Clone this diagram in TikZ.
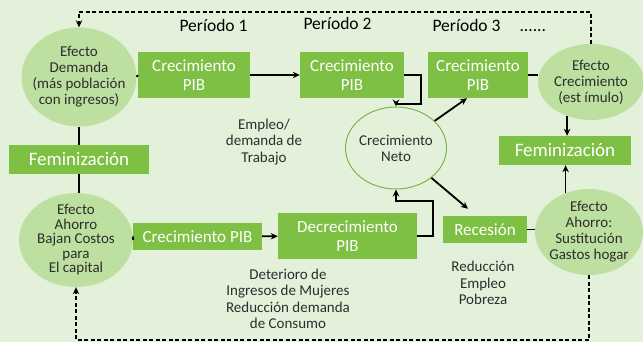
\documentclass[tikz,border=0pt]{standalone}
\usepackage{fontspec}
\setmainfont{Carlito}
\usetikzlibrary{positioning, calc, shapes.geometric, arrows.meta}
\definecolor{fondo}{RGB}{228,241,218}
\definecolor{verde}{RGB}{125,192,67}
\definecolor{verdeclaro}{RGB}{189,224,160}
\definecolor{borde}{RGB}{128,180,78}
\definecolor{texto}{RGB}{45,45,45}

\begin{document}
\begin{tikzpicture}[x=1pt, y=-1pt,
    caja/.style={fill=verde, text=white, align=center, inner sep=0pt,
        font=\fontsize{17}{19}\selectfont},
    efecto/.style={ellipse, fill=verdeclaro, inner sep=0pt},
    efectotxt/.style={align=center, text=texto, font=\fontsize{15}{16}\selectfont},
    nota/.style={align=center, text=texto, font=\fontsize{15}{16.5}\selectfont},
    periodo/.style={anchor=base west, text=black, font=\fontsize{17.5}{20}\selectfont},
    linea/.style={line width=1.8pt},
    flecha/.style={-{Stealth[length=7pt,width=6.5pt]}},
    discont/.style={line width=1.5pt, dash pattern=on 4pt off 2.5pt}]
    % fondo
    \fill[fondo] (0,0) rectangle (643,342);
    \useasboundingbox (0,0) rectangle (643,342);
    % periodos
    \node[periodo] (per1) at (176,32) {Período 1};
    \node[periodo] (per2) at (300,30) {Período 2};
    \node[periodo] (per3) at (429,32) {Período 3};
    \node[periodo] (puntos) at (516,32) {......};
    % efectos
    \node[efecto, minimum width=115pt, minimum height=99pt,
        label={[efectotxt]center:{Efecto\\Demanda\\(más población\\con ingresos)}}] (dem) at (79,77) {};
    \node[efecto, minimum width=106pt, minimum height=76pt,
        label={[efectotxt]center:{Efecto\\Crecimiento\\(est ímulo)}}] (crec) at (591,82) {};
    \node[efecto, minimum width=114pt, minimum height=94pt,
        label={[efectotxt, font=\fontsize{15}{14.5}\selectfont]center:{Efecto\\Ahorro\\Bajan Costos\\para\\El capital}}] (aho) at (76,240) {};
    \node[efecto, minimum width=108pt, minimum height=86pt,
        label={[efectotxt]center:{Efecto\\Ahorro:\\Sustitución\\Gastos hogar}}] (ahoR) at (589,232) {};
    \node[ellipse, draw=borde, line width=1pt, fill=fondo, minimum width=101pt, minimum height=82pt,
        label={[efectotxt]center:{Crecimiento\\Neto}}] (neto) at (396,148) {};
    % cajas
    \node[caja, minimum width=112pt, minimum height=46pt] (pib1) at (194,75) {Crecimiento\\PIB};
    \node[caja, minimum width=104pt, minimum height=46pt] (pib2) at (352,75) {Crecimiento\\PIB};
    \node[caja, minimum width=100pt, minimum height=46pt] (pib3) at (478,75) {Crecimiento\\PIB};
    \node[caja, minimum width=140pt, minimum height=29pt, font=\fontsize{19}{21}\selectfont] (femL) at (79,159.5) {Feminización};
    \node[caja, minimum width=132pt, minimum height=29pt, font=\fontsize{19}{21}\selectfont] (femR) at (565,150.5) {Feminización};
    \node[caja, minimum width=129pt, minimum height=27pt] (pibB) at (197.5,236.5) {Crecimiento PIB};
    \node[caja, minimum width=139pt, minimum height=46pt] (decr) at (347.5,236) {Decrecimiento\\PIB};
    \node[caja, minimum width=84pt, minimum height=27pt] (rec) at (485,229.5) {Recesión};
    % notas
    \node[nota] (emp) at (264,142) {Empleo/\\demanda de\\Trabajo};
    \node[nota] (det) at (288,299) {Deterioro de\\Ingresos de Mujeres\\Reducción demanda\\de Consumo};
    \node[nota] (redu) at (483,283) {Reducción\\Empleo\\Pobreza};
    % conectores
    \draw[linea] (dem.east) -- (pib1.west);
    \draw[linea, flecha] (pib1) -- (pib2);
    \draw[linea, flecha] (pib2.east) -- ++(17,0) -- ++(0,29) -| (neto.north);
    \draw[linea, flecha] (neto) -- ([xshift=-11pt]pib3.south);
    \draw[linea, flecha] (neto) -- ([xshift=-17pt, yshift=7pt]rec.north);
    \draw[linea] (pib3.east) -- (pib3.east -| crec.west);
    \draw[linea, flecha] (crec.-125) -- (crec.-125 |- femR.north);
    \draw[linea, flecha] (ahoR.121) -- (ahoR.121 |- femR.south);
    \draw[linea] (rec.east) -- (rec.east -| ahoR.west);
    \draw[linea, flecha] (decr.east) -- ++(16,0) -- ++(0,-35) -| (neto.south);
    \draw[linea, flecha] (pibB) -- (decr);
    \draw[linea] (aho.east) -- (pibB.west);
    \draw[linea] (dem.south) -- (femL.north);
    \draw[linea] (femL.south) -- (femL.south |- aho.north);
    % retroalimentacion
    \coordinate (arriba) at (79,12);
    \coordinate (abajo) at (76,340);
    \draw[discont, flecha] (crec.north) |- (arriba) -- (dem.north);
    \draw[discont, flecha] (ahoR.south) |- (abajo) -- (aho.south);
\end{tikzpicture}
\end{document}
